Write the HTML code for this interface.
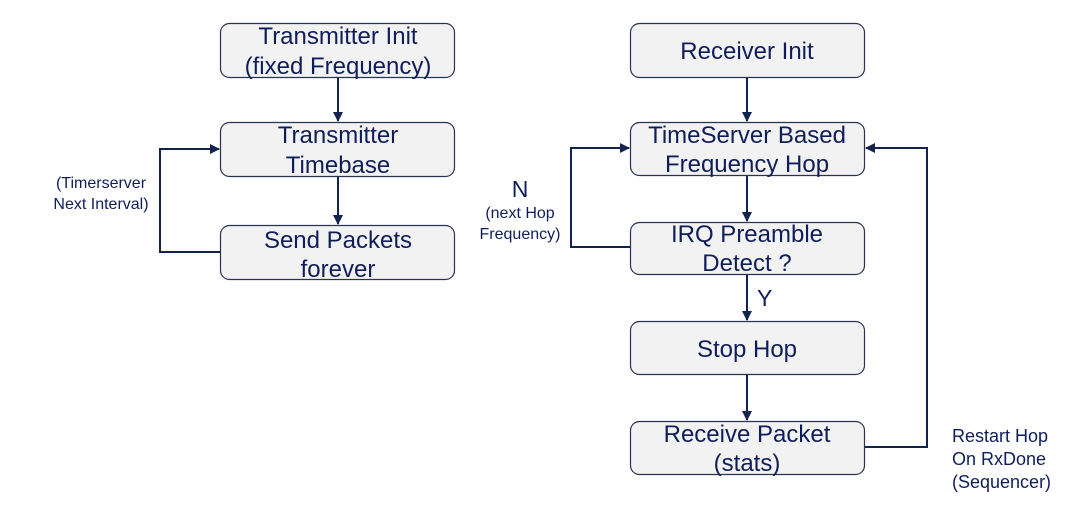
<!DOCTYPE html>
<html><head><style>body{margin:0;background:#fff}svg{display:block}text{font-family:"Liberation Sans",sans-serif;fill:#0f1e5a}</style></head><body>
<svg width="1091" height="524" viewBox="0 0 1091 524" xmlns="http://www.w3.org/2000/svg">
<defs><marker id="a" markerWidth="10" markerHeight="10" refX="9" refY="5" orient="auto" markerUnits="userSpaceOnUse"><path d="M0,0 L10,5 L0,10 z" fill="#132350"/></marker></defs>
<g fill="#f2f2f2" stroke="#2a3350" stroke-width="1.2">
<rect x="220.5" y="23.5" width="234" height="54" rx="9"/>
<rect x="220.5" y="122.5" width="234" height="54" rx="9"/>
<rect x="220.5" y="225.5" width="234" height="54" rx="9"/>
<rect x="630.5" y="23.5" width="234" height="54" rx="9"/>
<rect x="630.5" y="122.5" width="234" height="53" rx="9"/>
<rect x="630.5" y="222.5" width="234" height="52" rx="9"/>
<rect x="630.5" y="321.5" width="234" height="53" rx="9"/>
<rect x="630.5" y="421.5" width="234" height="53" rx="9"/>
</g>
<g stroke="#132350" stroke-width="2" fill="none">
<line x1="338" y1="78" x2="338" y2="121" marker-end="url(#a)"/>
<line x1="338" y1="177" x2="338" y2="224" marker-end="url(#a)"/>
<polyline points="220,252 160,252 160,149 219,149" marker-end="url(#a)"/>
<line x1="747" y1="78" x2="747" y2="121" marker-end="url(#a)"/>
<line x1="747" y1="176" x2="747" y2="221" marker-end="url(#a)"/>
<line x1="747" y1="275" x2="747" y2="320" marker-end="url(#a)"/>
<line x1="747" y1="375" x2="747" y2="420" marker-end="url(#a)"/>
<polyline points="630,247 571,247 571,148 629,148" marker-end="url(#a)"/>
<polyline points="865,447 927,447 927,148 866,148" marker-end="url(#a)"/>
</g>
<g font-size="24" text-anchor="middle">
<text x="338" y="44">Transmitter Init</text>
<text x="338" y="74">(fixed Frequency)</text>
<text x="338" y="143">Transmitter</text>
<text x="338" y="173">Timebase</text>
<text x="338" y="248">Send Packets</text>
<text x="338" y="277">forever</text>
<text x="747" y="59">Receiver Init</text>
<text x="747" y="143">TimeServer Based</text>
<text x="747" y="172">Frequency Hop</text>
<text x="747" y="242">IRQ Preamble</text>
<text x="747" y="271">Detect ?</text>
<text x="747" y="357">Stop Hop</text>
<text x="747" y="442">Receive Packet</text>
<text x="747" y="471">(stats)</text>
<text x="520" y="197" font-size="23">N</text>
</g>
<text x="757" y="306" font-size="23">Y</text>
<g font-size="16" text-anchor="middle">
<text x="101" y="188">(Timerserver</text>
<text x="101" y="209">Next Interval)</text>
<text x="520" y="218">(next Hop</text>
<text x="520" y="239">Frequency)</text>
</g>
<g font-size="18">
<text x="952" y="442">Restart Hop</text>
<text x="952" y="465">On RxDone</text>
<text x="952" y="488">(Sequencer)</text>
</g>
</svg>
</body></html>
